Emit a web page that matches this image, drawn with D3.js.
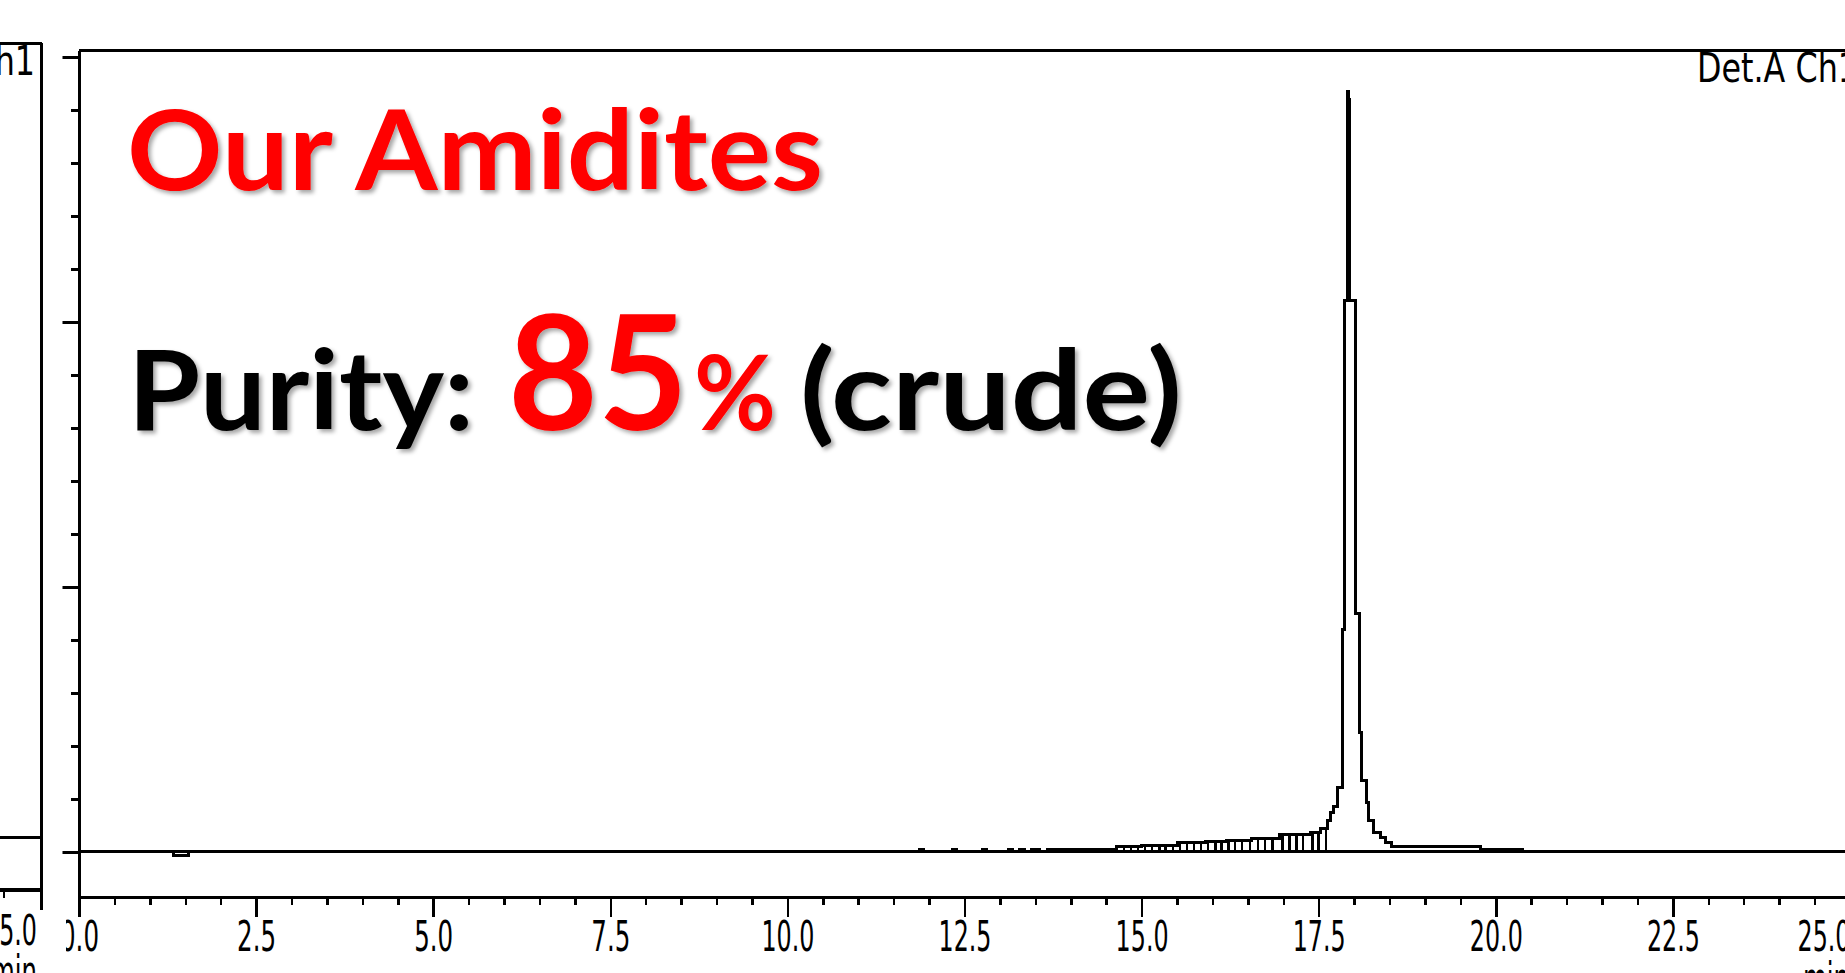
<!DOCTYPE html>
<html>
<head>
<meta charset="utf-8">
<script src="https://cdn.jsdelivr.net/npm/d3@7"></script>
<style>
  html, body { margin: 0; padding: 0; background: #fff; overflow: hidden; }
  svg { display: block; }
</style>
</head>
<body>
<svg id="chart" width="1845" height="973"></svg>
<script>
// ---- Chromatogram trace: retention time (min) and detector signal (step trace)
const traceTime = [
  0, 1.34, 1.54, 11.86, 11.92, 12.33, 12.39, 12.75, 12.81, 13.12, 13.18,
  13.27, 13.34, 13.44, 13.56, 13.67, 14.65, 15.0, 15.5, 15.9, 16.2, 16.55,
  16.95, 17.38, 17.52, 17.63, 17.67, 17.71, 17.77, 17.83, 17.87, 17.90,
  17.92, 17.94, 18.02, 18.07, 18.11, 18.17, 18.21, 18.27, 18.37, 18.45,
  18.53, 19.38, 19.78, 20.38, 25.5
];
const traceSignal = [
  0, -0.012, 0, 0.008, 0, 0.008, 0, 0.008, 0, 0.01, 0,
  0.01, 0, 0.01, 0, 0.011, 0.022, 0.026, 0.034, 0.04, 0.045, 0.05,
  0.064, 0.075, 0.09, 0.12, 0.15, 0.17, 0.245, 0.84, 2.08, 2.868,
  2.84, 2.08, 0.9, 0.45, 0.27, 0.185, 0.12, 0.072, 0.053, 0.034,
  0.019, 0.022, 0.008, 0, 0
];
// Integration drop lines (peak boundaries) in the impurity region
const dropTimes = [
  14.65, 14.75, 14.85, 14.95, 15.05, 15.15, 15.25, 15.34, 15.44, 15.54,
  15.64, 15.74, 15.84, 15.94, 16.04, 16.13, 16.23, 16.32, 16.42, 16.53,
  16.64, 16.74, 16.85, 16.99, 17.09, 17.19, 17.28, 17.41, 17.50, 17.60
];

// ---- Axis ticks
const xMajorTicks = [0, 2.5, 5, 7.5, 10, 12.5, 15, 17.5, 20, 22.5, 25];
const xTickLabels = ["0.0", "2.5", "5.0", "7.5", "10.0", "12.5", "15.0", "17.5", "20.0", "22.5", "25.0"];
const yMajorTicks = [0, 1, 2, 3];
const channelLabel = "Det.A Ch1";
const timeUnit = "min";

// ---- Overlay text
const headline = "Our Amidites";
const purityLabel = "Purity:";
const purityValue = "85";
const purityUnit = "%";
const purityNote = "(crude)";

const svg = d3.select("#chart");
svg.append("rect").attr("width", 1845).attr("height", 973).attr("fill", "#fff");

const defs = svg.append("defs");
const shadow = defs.append("filter").attr("id", "soft-shadow")
  .attr("x", "-5%").attr("y", "-10%").attr("width", "115%").attr("height", "130%");
shadow.append("feDropShadow")
  .attr("dx", 3).attr("dy", 3).attr("stdDeviation", 2.2)
  .attr("flood-color", "#000").attr("flood-opacity", 0.35);
// the main panel starts a little left of its y axis
defs.append("clipPath").attr("id", "main-clip")
  .append("rect").attr("x", 62.5).attr("y", 0).attr("width", 1845 - 62.5).attr("height", 973);
// the tick labels are cut a little further right (first label only partly shown)
defs.append("clipPath").attr("id", "label-clip")
  .append("rect").attr("x", 66).attr("y", -100).attr("width", 1845 - 66).attr("height", 300);

const tickFont = "'DejaVu Sans', 'Liberation Sans', sans-serif";

// ---- Main chromatogram panel
const x = d3.scaleLinear().domain([0, 25.5]).range([79, 79 + 25.5 * 70.84]);
const y = d3.scaleLinear().domain([-0.17, 3.026]).range([897, 50]);

const main = svg.append("g").attr("shape-rendering", "crispEdges")
  .attr("clip-path", "url(#main-clip)");

// top frame
main.append("line")
  .attr("x1", x(0)).attr("x2", x(25.5)).attr("y1", y(3.026)).attr("y2", y(3.026))
  .attr("stroke", "#000").attr("stroke-width", 3);

// x axis (minor + major ticks)
const xMinor = d3.range(0, 25.01, 0.5).filter(v => !xMajorTicks.includes(v));
main.append("g").attr("transform", `translate(0,${y(-0.17)})`)
  .call(d3.axisBottom(x).tickValues(xMinor).tickSize(8).tickSizeOuter(0).tickFormat(""))
  .call(g => g.select(".domain").attr("stroke-width", 3.5))
  .call(g => g.selectAll(".tick line").attr("stroke-width", 2.5));

const xMajor = main.append("g").attr("transform", `translate(0,${y(-0.17)})`)
  .call(d3.axisBottom(x).tickValues(xMajorTicks).tickSize(20).tickSizeOuter(0)
    .tickFormat((d, i) => xTickLabels[i]))
  .call(g => g.select(".domain").remove())
  .call(g => g.selectAll(".tick line").attr("stroke-width", 2.5));
xMajor.selectAll(".tick text")
  .attr("font-family", tickFont).attr("font-size", 42)
  .attr("fill", "#000")
  .attr("y", 54).attr("dy", 0)
  .attr("lengthAdjust", "spacingAndGlyphs")
  .attr("textLength", d => (xTickLabels[xMajorTicks.indexOf(d)].length === 3 ? 39 : 53));
// last label sits inside the frame edge
xMajor.selectAll(".tick text").filter(d => d === 25)
  .attr("text-anchor", "start").attr("x", 1797 - x(25));
xMajor.attr("clip-path", "url(#label-clip)");

// y axis (minor + major ticks)
const yMinor = d3.range(0, 3.01, 0.2).map(v => +v.toFixed(1)).filter(v => !yMajorTicks.includes(v));
main.append("g").attr("transform", `translate(${x(0)},0)`)
  .call(d3.axisLeft(y).tickValues(yMinor).tickSize(8).tickSizeOuter(0).tickFormat(""))
  .call(g => g.select(".domain").attr("stroke-width", 3))
  .call(g => g.selectAll(".tick line").attr("stroke-width", 3));
main.append("g").attr("transform", `translate(${x(0)},0)`)
  .call(d3.axisLeft(y).tickValues(yMajorTicks).tickSize(17).tickSizeOuter(0).tickFormat(""))
  .call(g => g.select(".domain").remove())
  .call(g => g.selectAll(".tick line").attr("stroke-width", 3));

// zero line
main.append("line")
  .attr("x1", x(0)).attr("x2", x(25.5)).attr("y1", y(0)).attr("y2", y(0))
  .attr("stroke", "#000").attr("stroke-width", 3);

// drop lines from the zero line up to the trace
const stepValue = t => traceSignal[d3.bisectRight(traceTime, t) - 1];
main.append("g").selectAll("line").data(dropTimes).join("line")
  .attr("x1", d => x(d)).attr("x2", d => x(d))
  .attr("y1", y(0)).attr("y2", d => y(stepValue(d)))
  .attr("stroke", "#000").attr("stroke-width", 2.5);

// trace
const trace = traceTime.map((t, i) => [t, traceSignal[i]]);
main.append("path").datum(trace)
  .attr("fill", "none").attr("stroke", "#000").attr("stroke-width", 3)
  .attr("d", d3.line().x(d => x(d[0])).y(d => y(d[1])).curve(d3.curveStepAfter));

// detector label & time unit
main.append("text").text(channelLabel)
  .attr("x", 1697).attr("y", 82)
  .attr("font-family", tickFont).attr("font-size", 41)
  .attr("lengthAdjust", "spacingAndGlyphs").attr("textLength", 161);
main.append("text").text(timeUnit)
  .attr("x", 1803).attr("y", 993)
  .attr("font-family", tickFont).attr("font-size", 42)
  .attr("lengthAdjust", "spacingAndGlyphs").attr("textLength", 46);

// ---- Neighbouring panel (right edge only)
const xL = d3.scaleLinear().domain([24.5, 25.5]).range([41.5 - 70.84, 41.5]);
const yL = d3.scaleLinear().domain([-0.2, 3.026]).range([890, 43]);
const side = svg.append("g").attr("shape-rendering", "crispEdges");
side.append("line").attr("x1", 0).attr("x2", xL(25.5)).attr("y1", yL(3.026)).attr("y2", yL(3.026))
  .attr("stroke", "#000").attr("stroke-width", 3);
side.append("line").attr("x1", xL(25.5)).attr("x2", xL(25.5)).attr("y1", yL(3.026)).attr("y2", 910)
  .attr("stroke", "#000").attr("stroke-width", 3);
side.append("line").attr("x1", 0).attr("x2", xL(25.5)).attr("y1", yL(0)).attr("y2", yL(0))
  .attr("stroke", "#000").attr("stroke-width", 3);
side.append("line").attr("x1", 0).attr("x2", xL(25.5)).attr("y1", yL(-0.2)).attr("y2", yL(-0.2))
  .attr("stroke", "#000").attr("stroke-width", 3.5);
side.append("line").attr("x1", 4).attr("x2", 4).attr("y1", yL(-0.2)).attr("y2", yL(-0.2) + 8)
  .attr("stroke", "#000").attr("stroke-width", 2.5);
side.append("text").text(channelLabel)
  .attr("x", 35).attr("y", 75).attr("text-anchor", "end")
  .attr("font-family", tickFont).attr("font-size", 41)
  .attr("lengthAdjust", "spacingAndGlyphs").attr("textLength", 161);
side.append("text").text(xTickLabels[xTickLabels.length - 1])
  .attr("x", 37).attr("y", 945).attr("text-anchor", "end")
  .attr("font-family", tickFont).attr("font-size", 42)
  .attr("lengthAdjust", "spacingAndGlyphs").attr("textLength", 53);
side.append("text").text(timeUnit)
  .attr("x", 37).attr("y", 986).attr("text-anchor", "end")
  .attr("font-family", tickFont).attr("font-size", 42)
  .attr("lengthAdjust", "spacingAndGlyphs").attr("textLength", 46);

// ---- Overlay headline
const bold = "Lato, 'Open Sans', 'Noto Sans', sans-serif";
const over = svg.append("g").attr("font-family", bold).attr("font-weight", 700)
  .attr("filter", "url(#soft-shadow)");
over.append("text").text(headline)
  .attr("x", 127).attr("y", 190).attr("font-size", 112).attr("fill", "#ff0000")
  .attr("lengthAdjust", "spacingAndGlyphs").attr("textLength", 696);
over.append("text").text(purityLabel)
  .attr("x", 128).attr("y", 430).attr("font-size", 112).attr("fill", "#000")
  .attr("lengthAdjust", "spacingAndGlyphs").attr("textLength", 346);
over.append("text").text(purityValue)
  .attr("x", 508).attr("y", 430).attr("font-size", 160).attr("fill", "#ff0000")
  .attr("lengthAdjust", "spacingAndGlyphs").attr("textLength", 180);
over.append("text").text(purityUnit)
  .attr("x", 694).attr("y", 430).attr("font-size", 104).attr("fill", "#ff0000")
  .attr("lengthAdjust", "spacingAndGlyphs").attr("textLength", 82);
over.append("text").text(purityNote)
  .attr("x", 800).attr("y", 430).attr("font-size", 112).attr("fill", "#000")
  .attr("lengthAdjust", "spacingAndGlyphs").attr("textLength", 382);
</script>
</body>
</html>
